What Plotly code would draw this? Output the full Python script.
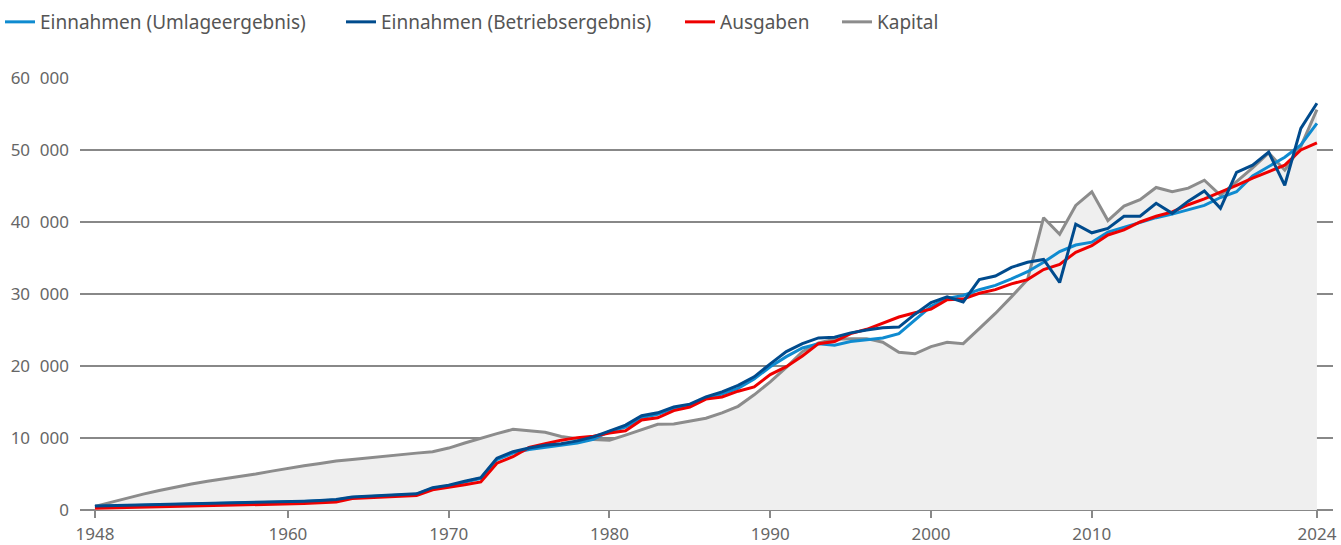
import plotly.graph_objects as go

years = list(range(1948, 2025))

einnahmen_umlage = [
    500, 550, 600, 650, 700, 740, 780, 820, 860, 910, 950, 1000,
    1080, 1180, 1280, 1400, 1750, 1850, 1950, 2050, 2200, 3000,
    3350, 3900, 4400, 7000, 7900, 8400, 8700, 8900, 9300, 9800,
    10900, 11500, 12800, 13300, 14100, 14500, 15500, 16100, 16900, 18200,
    19900, 21300, 22500, 23100, 22900, 23400, 23700, 23900, 24500, 26400,
    28300, 29400, 29800, 30600, 31200, 32100, 33100, 34400, 35900, 36800,
    37200, 38600, 39300, 39900, 40600, 41100, 41700, 42300, 43400, 44200,
    46400, 47700, 49000, 50700, 53700,
]

einnahmen_betrieb = [
    550, 600, 650, 700, 750, 780, 820, 860, 900, 950, 1000, 1050,
    1120, 1220, 1320, 1450, 1800, 1900, 2000, 2100, 2250, 3100,
    3450, 4000, 4500, 7200, 8100, 8600, 9000, 9200, 9600, 10150,
    11000, 11800, 13100, 13500, 14300, 14700, 15700, 16400, 17300, 18500,
    20300, 22000, 23100, 23900, 24000, 24600, 25000, 25300, 25400, 27200,
    28800, 29600, 28900, 32000, 32500, 33700, 34400, 34800, 31600, 39700,
    38500, 39100, 40800, 40800, 42600, 41200, 42900, 44300, 41900, 46900,
    47900, 49700, 45100, 53000, 56500,
]

ausgaben = [
    250, 300, 330, 360, 400, 430, 470, 520, 580, 640, 700, 760,
    820, 900, 1000, 1100, 1600, 1700, 1800, 1900, 2000, 2800,
    3100, 3500, 3900, 6500, 7400, 8700, 9200, 9700, 10050, 10250,
    10700, 11000, 12500, 12800, 13800, 14300, 15400, 15700, 16500, 17100,
    18800, 19900, 21400, 23100, 23400, 24500, 25100, 26000, 26800, 27400,
    27900, 29200, 29300, 30100, 30600, 31400, 32000, 33400, 34100, 35800,
    36700, 38200, 38900, 40000, 40800, 41400, 42400, 43200, 44100, 45100,
    46100, 47000, 47900, 50000, 51000,
]

kapital = [
    500, 1100, 1700, 2200, 2700, 3200, 3600, 4000, 4300, 4650, 5000, 5400,
    5800, 6150, 6450, 6800, 7000, 7250, 7500, 7700, 7900, 8100,
    8600, 9300, 10000, 10600, 11200, 11000, 10800, 10200, 9900, 9800,
    9700, 10400, 11100, 11900, 11950, 12300, 12750, 13500, 14400, 16000,
    17800, 19800, 22000, 23200, 23700, 23800, 23800, 23300, 21900, 21700,
    22700, 23300, 23100, 25200, 27300, 29600, 32000, 40600, 38300, 42300,
    44200, 40200, 42200, 43100, 44800, 44200, 44700, 45800, 43700, 45600,
    47500, 49600, 47200, 50500, 55600,
]

x_tickvals = [1948, 1960, 1970, 1980, 1990, 2000, 2010, 2024]
y_tickvals = [0, 10000, 20000, 30000, 40000, 50000, 60000]
y_ticktext = ["0", "10\u2007000", "20\u2007000", "30\u2007000",
              "40\u2007000", "50\u2007000", "60\u2007000"]

C_LIGHT = "#0f8bd0"
C_DARK = "#004b8d"
C_RED = "#ee0000"
C_GRAY = "#8c8c8c"

W, H = 1341, 545

fig = go.Figure()
# area under the capital line
fig.add_trace(go.Scatter(
    x=years, y=kapital, mode="lines", showlegend=False, hoverinfo="skip",
    line=dict(color="rgba(0,0,0,0)", width=0), fill="tozeroy", fillcolor="#efefef",
))
fig.add_trace(go.Scatter(
    x=years, y=kapital, name="Kapital", mode="lines",
    line=dict(color=C_GRAY, width=3), legend="legend4",
))
fig.add_trace(go.Scatter(
    x=years, y=einnahmen_umlage, name="Einnahmen (Umlageergebnis)", mode="lines",
    line=dict(color=C_LIGHT, width=3), legend="legend",
))
fig.add_trace(go.Scatter(
    x=years, y=ausgaben, name="Ausgaben", mode="lines",
    line=dict(color=C_RED, width=3), legend="legend3",
))
fig.add_trace(go.Scatter(
    x=years, y=einnahmen_betrieb, name="Einnahmen (Betriebsergebnis)", mode="lines",
    line=dict(color=C_DARK, width=3), legend="legend2",
))

def leg(text_start_px):
    return dict(
        orientation="h", x=(text_start_px - 40) / W, y=1 - 22 / H,
        xref="container", yref="container", xanchor="left", yanchor="middle",
        font=dict(size=19, color="#555555", family="Noto Sans"),
        bgcolor="rgba(0,0,0,0)",
    )

fig.update_layout(
    width=W, height=H,
    margin=dict(l=80, r=8, t=78, b=35),
    paper_bgcolor="white", plot_bgcolor="white",
    font=dict(family="Noto Sans", size=17, color="#666666"),
    showlegend=True,
    legend=leg(35),
    legend2=leg(381),
    legend3=leg(720),
    legend4=leg(877),
    xaxis=dict(
        range=[1947.07, 2025.0], automargin=False,
        tickmode="array", tickvals=x_tickvals,
        ticks="outside", ticklen=7, tickcolor="#888888", tickwidth=1.5,
        showgrid=False, zeroline=False, showline=False,
        ticklabelstandoff=2,
        tickfont=dict(size=17, color="#666666"),
    ),
    yaxis=dict(
        range=[0, 60000], automargin=False,
        tickmode="array", tickvals=y_tickvals, ticktext=y_ticktext,
        showgrid=True, gridcolor="#888888", gridwidth=1.5,
        zeroline=True, zerolinecolor="#888888", zerolinewidth=1.5,
        showline=False, ticks="", ticklabelstandoff=10,
        tickfont=dict(size=17, color="#666666"),
    ),
)

fig.write_html(
    "out.html",
    config={"displayModeBar": False},
    post_script="document.body.style.margin='0';document.body.style.overflow='hidden';",
)
